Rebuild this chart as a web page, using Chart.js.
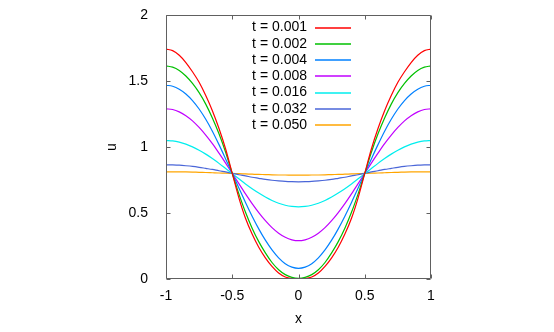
<!DOCTYPE html>
<html>
<head>
<meta charset="utf-8">
<script src="https://cdn.jsdelivr.net/npm/chart.js@4/dist/chart.umd.min.js"></script>
<style>
  html, body { margin: 0; padding: 0; background: #ffffff; }
  #wrap { width: 554px; height: 332px; }
</style>
</head>
<body>
<div id="wrap"><canvas id="c" width="554" height="332"></canvas></div>
<script>
// ---- data ----
const xValues = [-1, -0.95, -0.9, -0.85, -0.8, -0.75, -0.7, -0.65, -0.6, -0.55, -0.5,
                 -0.45, -0.4, -0.35, -0.3, -0.25, -0.2, -0.15, -0.1, -0.05, 0,
                 0.05, 0.1, 0.15, 0.2, 0.25, 0.3, 0.35, 0.4, 0.45, 0.5,
                 0.55, 0.6, 0.65, 0.7, 0.75, 0.8, 0.85, 0.9, 0.95, 1];
const seriesLabels = ['t = 0.001', 't = 0.002', 't = 0.004', 't = 0.008', 't = 0.016', 't = 0.032', 't = 0.050'];
const u_t001 = [1.742, 1.730, 1.695, 1.640, 1.570, 1.490, 1.390, 1.275, 1.140, 0.985, 0.800,
                0.615, 0.460, 0.340, 0.240, 0.160, 0.095, 0.045, 0.015, 0.003, 0.000,
                0.003, 0.015, 0.045, 0.095, 0.160, 0.240, 0.340, 0.460, 0.615, 0.800,
                0.985, 1.140, 1.275, 1.390, 1.490, 1.570, 1.640, 1.695, 1.730, 1.742];
const u_t002 = [1.614, 1.605, 1.580, 1.538, 1.482, 1.412, 1.325, 1.220, 1.100, 0.960, 0.800,
                0.645, 0.505, 0.385, 0.283, 0.198, 0.125, 0.070, 0.033, 0.012, 0.005,
                0.012, 0.033, 0.070, 0.125, 0.198, 0.283, 0.385, 0.505, 0.645, 0.800,
                0.960, 1.100, 1.220, 1.325, 1.412, 1.482, 1.538, 1.580, 1.605, 1.614];
const u_t004 = [1.468, 1.460, 1.438, 1.402, 1.352, 1.288, 1.210, 1.120, 1.018, 0.910, 0.800,
                0.690, 0.580, 0.476, 0.380, 0.294, 0.220, 0.160, 0.116, 0.090, 0.081,
                0.090, 0.116, 0.160, 0.220, 0.294, 0.380, 0.476, 0.580, 0.690, 0.800,
                0.910, 1.018, 1.120, 1.210, 1.288, 1.352, 1.402, 1.438, 1.460, 1.468];
const u_t008 = [1.289, 1.284, 1.266, 1.237, 1.198, 1.148, 1.090, 1.025, 0.953, 0.878, 0.800,
                0.722, 0.645, 0.571, 0.503, 0.442, 0.389, 0.347, 0.316, 0.297, 0.290,
                0.297, 0.316, 0.347, 0.389, 0.442, 0.503, 0.571, 0.645, 0.722, 0.800,
                0.878, 0.953, 1.025, 1.090, 1.148, 1.198, 1.237, 1.266, 1.284, 1.289];
const u_t016 = [1.049, 1.046, 1.037, 1.022, 1.001, 0.976, 0.946, 0.912, 0.876, 0.837, 0.798,
                0.759, 0.720, 0.684, 0.651, 0.621, 0.595, 0.574, 0.559, 0.550, 0.547,
                0.550, 0.559, 0.574, 0.595, 0.621, 0.651, 0.684, 0.720, 0.759, 0.798,
                0.837, 0.876, 0.912, 0.946, 0.976, 1.001, 1.022, 1.037, 1.046, 1.049];
const u_t032 = [0.865, 0.864, 0.862, 0.858, 0.853, 0.846, 0.838, 0.830, 0.820, 0.811, 0.801,
                0.790, 0.781, 0.771, 0.763, 0.755, 0.748, 0.743, 0.739, 0.737, 0.736,
                0.737, 0.739, 0.743, 0.748, 0.755, 0.763, 0.771, 0.781, 0.790, 0.801,
                0.811, 0.820, 0.830, 0.838, 0.846, 0.853, 0.858, 0.862, 0.864, 0.865];
const u_t050 = [0.812, 0.812, 0.811, 0.811, 0.810, 0.808, 0.807, 0.805, 0.803, 0.802, 0.800,
                0.798, 0.796, 0.794, 0.792, 0.791, 0.789, 0.788, 0.788, 0.787, 0.787,
                0.787, 0.788, 0.788, 0.789, 0.791, 0.792, 0.794, 0.796, 0.798, 0.800,
                0.802, 0.803, 0.805, 0.807, 0.808, 0.810, 0.811, 0.811, 0.812, 0.812];
const xTickValues = [-1, -0.5, 0, 0.5, 1];
const xTickLabels = ['-1', '-0.5', '0', '0.5', '1'];
const yTickValues = [0, 0.5, 1, 1.5, 2];
const yTickLabels = ['0', '0.5', '1', '1.5', '2'];
const xTitle = 'x';
const yTitle = 'u';

// ---- styles ----
const colors = ['#ff0000', '#00c000', '#0080ff', '#c000ff', '#00eeee', '#4a66d8', '#ffa500'];
const allSeries = [u_t001, u_t002, u_t004, u_t008, u_t016, u_t032, u_t050];
const FONT = "'Liberation Sans', Arial, sans-serif";

const datasets = allSeries.map((arr, i) => ({
  label: seriesLabels[i],
  data: xValues.map((x, j) => ({ x: x, y: arr[j] })),
  borderColor: colors[i],
  backgroundColor: colors[i],
  borderWidth: 1.2,
  pointRadius: 0,
  fill: false,
  cubicInterpolationMode: 'monotone'
}));

const frame = {
  id: 'frame',
  afterDatasetsDraw(chart) {
    const ctx = chart.ctx;
    const a = chart.chartArea;
    const xs = chart.scales.x, ys = chart.scales.y;
    ctx.save();
    ctx.strokeStyle = '#606060';
    ctx.lineWidth = 1;
    const L = Math.round(a.left) + 0.5, R = Math.round(a.right) - 0.5;
    const T = Math.round(a.top) + 0.5, B = Math.round(a.bottom) - 0.5;
    ctx.beginPath();
    ctx.rect(L, T, R - L, B - T);
    const tl = 4;
    xTickValues.forEach(v => {
      const p = Math.round(xs.getPixelForValue(v)) + 0.5;
      ctx.moveTo(p, B); ctx.lineTo(p, B - tl);
      ctx.moveTo(p, T); ctx.lineTo(p, T + tl);
    });
    yTickValues.forEach(v => {
      const p = Math.round(ys.getPixelForValue(v)) + 0.5;
      ctx.moveTo(L, p); ctx.lineTo(L + tl, p);
      ctx.moveTo(R, p); ctx.lineTo(R - tl, p);
    });
    ctx.stroke();

    // key (legend) inside top of the plot
    ctx.font = '14px ' + FONT;
    ctx.textAlign = 'right';
    ctx.textBaseline = 'middle';
    chart.data.datasets.forEach((ds, i) => {
      const y = a.top + 12.5 + i * 16.27;
      ctx.fillStyle = '#000000';
      ctx.fillText(ds.label, a.left + 141, y);
      ctx.strokeStyle = colors[i];
      ctx.lineWidth = 1.5;
      ctx.beginPath();
      ctx.moveTo(a.left + 149, Math.round(y));
      ctx.lineTo(a.left + 185, Math.round(y));
      ctx.stroke();
    });
    ctx.restore();
  }
};

new Chart(document.getElementById('c'), {
  type: 'line',
  data: { datasets: datasets },
  options: {
    responsive: false,
    devicePixelRatio: 1,
    animation: false,
    layout: { padding: { left: 100, right: 123, top: 15, bottom: 0 } },
    plugins: { legend: { display: false }, tooltip: { enabled: false }, title: { display: false } },
    scales: {
      x: {
        type: 'linear',
        min: -1, max: 1,
        afterFit: s => { s.height = 53; },
        afterBuildTicks: s => { s.ticks = xTickValues.map(v => ({ value: v })); },
        grid: { display: false, drawTicks: true, tickLength: 6 },
        border: { display: false },
        ticks: {
          padding: 3,
          color: '#000000',
          font: { family: FONT, size: 14 },
          maxRotation: 0,
          callback: v => xTickLabels[xTickValues.indexOf(v)]
        },
        title: { display: true, text: xTitle, color: '#000000', font: { family: FONT, size: 14 }, padding: { top: 0, bottom: 4 } }
      },
      y: {
        type: 'linear',
        min: 0, max: 2,
        afterFit: s => { s.width = 66; },
        afterBuildTicks: s => { s.ticks = yTickValues.map(v => ({ value: v })); },
        grid: { display: false, drawTicks: true, tickLength: 15 },
        border: { display: false },
        ticks: {
          padding: 3,
          color: '#000000',
          font: { family: FONT, size: 14 },
          callback: v => yTickLabels[yTickValues.indexOf(v)]
        },
        title: { display: true, text: yTitle, color: '#000000', font: { family: FONT, size: 14 }, padding: { top: 4, bottom: 0 } }
      }
    }
  },
  plugins: [frame]
});
</script>
</body>
</html>
